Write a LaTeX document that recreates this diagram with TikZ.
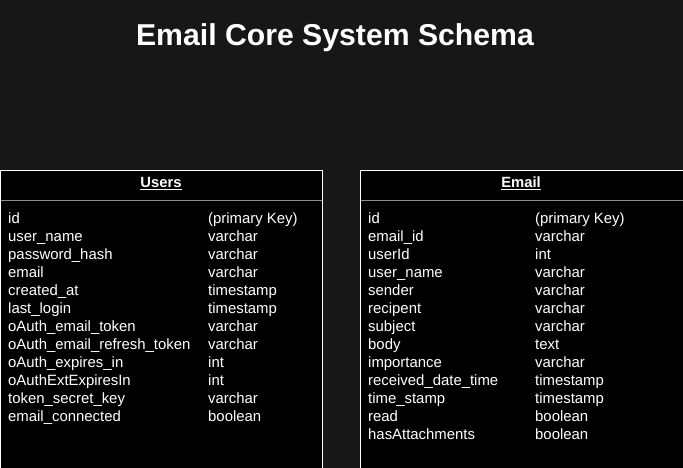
\documentclass[tikz,border=0pt]{standalone}
\usepackage{fontspec}
\setmainfont{Liberation Sans}
\definecolor{bg}{RGB}{23,23,23}
\definecolor{sep}{RGB}{140,140,140}
\begin{document}
\begin{tikzpicture}[x=1pt,y=-1pt,
  cell/.style={anchor=base west,inner sep=0pt,text=white,font=\fontsize{14.9}{16}\selectfont},
  head/.style={anchor=base,inner sep=0pt,text=white,font=\fontsize{14.8}{16}\selectfont\bfseries},
  tbl/.style={draw=white,fill=black,line width=0.9pt}]
\fill[bg] (0,0) rectangle (683,468);
\useasboundingbox (0,0) rectangle (683,468);
\node[anchor=base,inner sep=0pt,text=white,font=\fontsize{30.2}{32}\selectfont\bfseries] (title) at (335,46) {Email Core System Schema};
% Users table
\path[tbl] (0.5,470) -- (0.5,170.5) -- (322,170.5) -- (322,470);
\draw[sep,line width=0.8pt] (1,200.5) -- (321.5,200.5);
\node[head] (users) at (161,188) {\underline{Users}};
% Email table
\path[tbl] (360.5,470) -- (360.5,170.5) -- (684,170.5) -- (684,470);
\draw[sep,line width=0.8pt] (361,200.5) -- (684,200.5);
\node[head] (email) at (521,188) {\underline{Email}};
\foreach \a/\b [count=\i from 0] in {id/(primary Key),user\_name/varchar,password\_hash/varchar,email/varchar,created\_at/timestamp,last\_login/timestamp,oAuth\_email\_token/varchar,oAuth\_email\_refresh\_token/varchar,oAuth\_expires\_in/int,oAuthExtExpiresIn/int,token\_secret\_key/varchar,email\_connected/boolean}{
  \node[cell] (u\i a) at (8,223+18*\i) {\a};
  \node[cell] (u\i b) at (208,223+18*\i) {\b};
}
\foreach \a/\b [count=\i from 0] in {id/(primary Key),email\_id/varchar,userId/int,user\_name/varchar,sender/varchar,recipent/varchar,subject/varchar,body/text,importance/varchar,received\_date\_time/timestamp,time\_stamp/timestamp,read/boolean,hasAttachments/boolean}{
  \node[cell] (e\i a) at (368,223+18*\i) {\a};
  \node[cell] (e\i b) at (535,223+18*\i) {\b};
}
\end{tikzpicture}
\end{document}
